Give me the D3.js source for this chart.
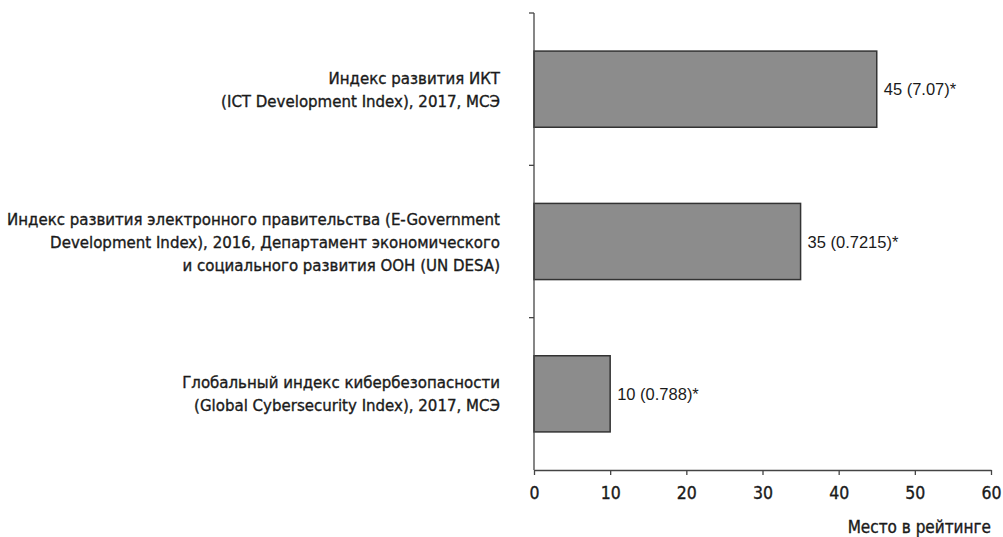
<!DOCTYPE html>
<html><head><meta charset="utf-8">
<script src="https://cdn.jsdelivr.net/npm/d3@7"></script>
<style>body{margin:0;background:#fff}</style>
</head><body>
<svg id="c" width="1003" height="537"></svg>
<script>
const categories = [
  ["Индекс развития ИКТ", "(ICT Development Index), 2017, МСЭ"],
  ["Индекс развития электронного правительства (E-Government", "Development Index), 2016, Департамент экономического", "и социального развития ООН (UN DESA)"],
  ["Глобальный индекс кибербезопасности", "(Global Cybersecurity Index), 2017, МСЭ"]
];
const values = [45, 35, 10];
const valueLabels = ["45 (7.07)*", "35 (0.7215)*", "10 (0.788)*"];
const xTicks = [0, 10, 20, 30, 40, 50, 60];
const xTitle = "Место в рейтинге";

const svg = d3.select("#c");
const m = {l: 534, r: 12, t: 13, b: 67};
const W = 1003, H = 537;
const x = d3.scaleLinear().domain([0, 60]).range([m.l, W - m.r]);
const y = d3.scaleBand().domain(d3.range(categories.length)).range([m.t, H - m.b]).paddingInner(0.5).paddingOuter(0.25);

const labFont = "'DejaVu Sans Condensed', 'DejaVu Sans', sans-serif";
const valFont = "'Liberation Sans', Arial, sans-serif";
const ink = "#1a1a1a";

// bars
svg.selectAll("rect.bar").data(values).join("rect")
  .attr("x", x(0)).attr("y", (d, i) => y(i))
  .attr("width", d => x(d) - x(0)).attr("height", y.bandwidth())
  .attr("fill", "#8c8c8c").attr("stroke", "#333").attr("stroke-width", 1.5);

// y axis
const yAxisG = svg.append("g").attr("transform", `translate(${m.l},0)`);
yAxisG.append("line").attr("x1", 0).attr("x2", 0).attr("y1", m.t).attr("y2", H - m.b).attr("stroke", "#444").attr("stroke-width", 1.3);
const step = y.step();
const boundaryYs = d3.range(categories.length).map(i => y(i) + y.bandwidth() / 2 - step / 2);
yAxisG.selectAll("line.t").data(boundaryYs).join("line")
  .attr("x1", -5).attr("x2", 0).attr("y1", d => d).attr("y2", d => d)
  .attr("stroke", "#444").attr("stroke-width", 1.3);

// x axis
const xAxis = d3.axisBottom(x).tickValues(xTicks).tickSize(5).tickSizeOuter(0).tickPadding(12);
const xg = svg.append("g").attr("transform", `translate(0,${H - m.b})`).call(xAxis);
xg.select(".domain").attr("stroke", "#444").attr("stroke-width", 1.3);
xg.selectAll(".tick line").attr("stroke", "#444").attr("stroke-width", 1.3);
xg.selectAll(".tick text").attr("font-family", labFont).attr("font-size", 17.5).attr("fill", ink)
  .attr("stroke", ink).attr("stroke-width", 0.35);

svg.append("text").attr("x", x(60)).attr("y", 533).attr("text-anchor", "end")
  .attr("font-family", labFont).attr("font-size", 17).attr("fill", ink)
  .attr("stroke", ink).attr("stroke-width", 0.35).text(xTitle);

// category labels
const lh = 23;
categories.forEach((lines, i) => {
  const cy = y(i) + y.bandwidth() / 2;
  const t = svg.append("text").attr("text-anchor", "end").attr("font-family", labFont)
    .attr("font-size", 16.7).attr("fill", ink).attr("stroke", ink).attr("stroke-width", 0.35);
  lines.forEach((ln, j) => {
    t.append("tspan").attr("x", 500).attr("y", cy + (j - (lines.length - 1) / 2) * lh + 6).text(ln);
  });
});

// value labels
svg.selectAll("text.val").data(values).join("text")
  .attr("x", d => x(d) + 7).attr("y", (d, i) => y(i) + y.bandwidth() / 2 + 6)
  .attr("font-family", valFont).attr("font-size", 16.5).attr("fill", ink)
  .text((d, i) => valueLabels[i]);
</script>
</body></html>
